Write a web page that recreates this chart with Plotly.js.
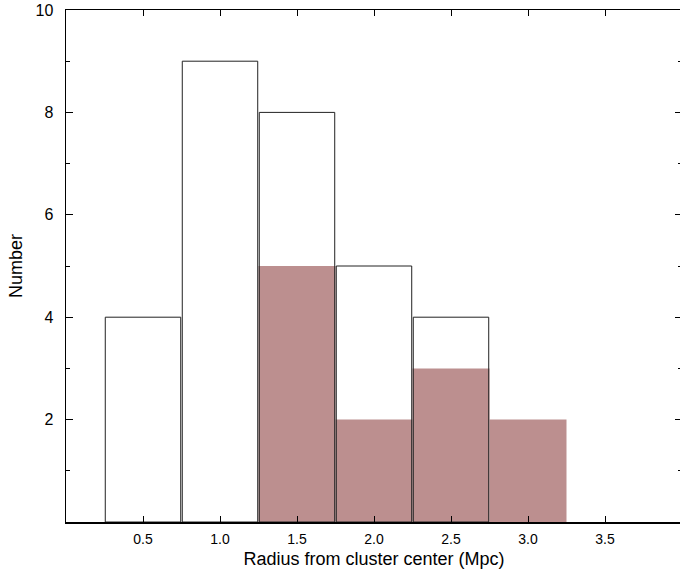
<!DOCTYPE html>
<html>
<head>
<meta charset="utf-8">
<script src="https://cdn.plot.ly/plotly-3.0.1.min.js"></script>
<style>html,body{margin:0;padding:0;overflow:hidden;background:#fff;}</style>
</head>
<body>
<div id="chart"></div>
<script>
const radiusBins = [0.5, 1.0, 1.5, 2.0, 2.5, 3.0];
const allCounts = [4, 9, 8, 5, 4, null];
const subsetCounts = [null, null, 5, 2, 3, 2];
const xTickVals = [0.5, 1.0, 1.5, 2.0, 2.5, 3.0, 3.5];
const xTickText = ['0.5', '1.0', '1.5', '2.0', '2.5', '3.0', '3.5'];
const yTickVals = [2, 4, 6, 8, 10];
const yMinorVals = [1, 3, 5, 7, 9];

const traces = [
  {
    type: 'bar', x: radiusBins, y: subsetCounts, width: 0.5,
    marker: {color: '#bc8f8f', line: {width: 0}},
    hoverinfo: 'skip'
  },
  {
    type: 'bar', x: radiusBins, y: allCounts, width: 0.49,
    marker: {color: 'rgba(0,0,0,0)', line: {color: '#222', width: 1}},
    hoverinfo: 'skip'
  }
];

const font = {family: 'Liberation Sans, Arial, Helvetica, sans-serif', color: '#000'};

const layout = {
  width: 684, height: 572,
  margin: {l: 66, r: 2, t: 10, b: 50},
  paper_bgcolor: '#fff', plot_bgcolor: '#fff',
  barmode: 'overlay',
  showlegend: false,
  font: font,
  xaxis: {
    range: [0, 4], showgrid: false, zeroline: false,
    showline: true, linecolor: '#000', linewidth: 1.5, mirror: 'ticks',
    ticks: 'inside', ticklen: 6, tickwidth: 1, tickcolor: '#000',
    tickvals: xTickVals, ticktext: xTickText,
    tickfont: {size: 14, family: font.family, color: '#000'},
    ticklabelstandoff: 4,
    title: {text: 'Radius from cluster center (Mpc)', font: {size: 18, family: font.family, color: '#000'}, standoff: 6}
  },
  yaxis: {
    range: [0, 10], showgrid: false, zeroline: false,
    showline: true, linecolor: '#000', linewidth: 1.5, mirror: 'ticks',
    ticks: 'inside', ticklen: 7, tickwidth: 1, tickcolor: '#000',
    tickvals: yTickVals, ticktext: yTickVals.map(String),
    tickfont: {size: 16, family: font.family, color: '#000'},
    ticklabelstandoff: 8,
    minor: {tickvals: yMinorVals, ticks: 'inside', ticklen: 4, tickwidth: 1, tickcolor: '#000', showgrid: false},
    title: {text: 'Number', font: {size: 18, family: font.family, color: '#000'}, standoff: 8}
  }
};

Plotly.newPlot('chart', traces, layout, {displayModeBar: false, responsive: false, staticPlot: true});
</script>
</body>
</html>
